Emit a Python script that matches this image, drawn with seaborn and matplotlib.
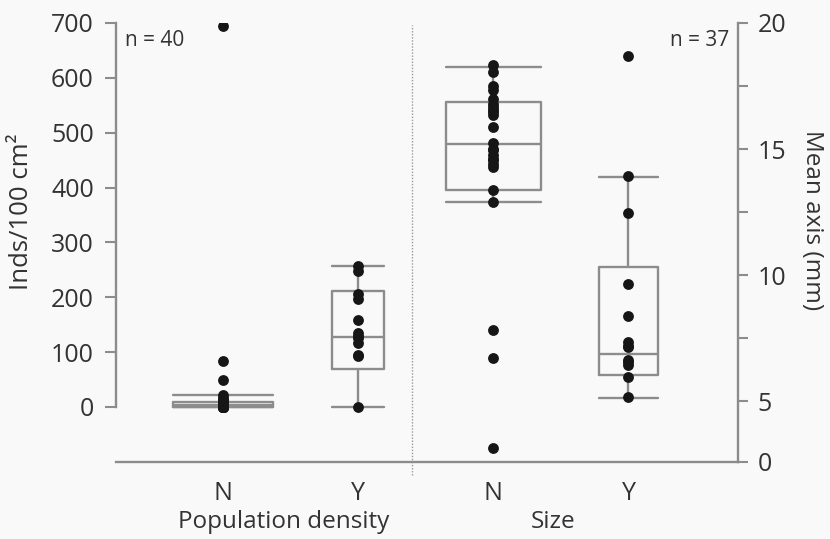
import numpy as np
import pandas as pd
import matplotlib
matplotlib.use("Agg")
import matplotlib.pyplot as plt
import matplotlib.transforms as mtransforms
import seaborn as sns

# ---------------- data ----------------
categories = ["dN", "dY", "sN", "sY"]
tick_labels = ["N", "Y", "N", "Y"]
group_labels = ["Population density", "Size"]

density_N = [695, 84, 49, 22, 16, 13, 10, 7, 5, 4, 3, 2, 1, 1,
             0, 0, 0, 0, 0, 0, 0, 0, 0, 0, 0, 0, 0, 0]
density_Y = [256, 247, 205, 197, 159, 135, 130, 126, 117, 95, 93, 0]
size_N = [18.33, 18.06, 17.5, 17.34, 17.0, 16.8, 16.67, 16.55, 16.47, 16.35,
          15.87, 15.24, 15.0, 14.96, 14.76, 14.6, 14.56, 14.4, 14.29,
          13.37, 12.9, 7.82, 6.7, 1.15]
size_Y = [18.69, 13.93, 12.46, 9.64, 8.37, 7.34, 7.2, 7.14, 6.63, 6.55,
          6.43, 5.95, 5.16]

# box statistics: (lower whisker, Q1, median, Q3, upper whisker)
box_dN = [0, 0, 4, 9, 22]
box_dY = [0, 69, 128, 212, 256]
box_sN = [12.9, 13.37, 15.2, 16.87, 18.25]
box_sY = [5.12, 6.03, 6.87, 10.32, 13.89]
box_widths = {"dN": 0.74, "dY": 0.385, "sN": 0.70, "sY": 0.44}

# ---------------- style ----------------
sns.set_theme(style="white")
plt.rcParams["font.family"] = ["Open Sans", "DejaVu Sans"]
BG = "#f9f9f9"
LINE = "#8c8c8c"
TXT = "#333333"
DOT = "#161616"

fig = plt.figure(figsize=(8.3, 5.39), dpi=100, facecolor=BG)
ax = fig.add_axes([116 / 830, 1 - 462 / 539, (738 - 116) / 830, (462 - 23) / 539])
ax.set_facecolor(BG)
ax2 = ax.twinx()

pts = pd.DataFrame({
    "cat": ["dN"] * len(density_N) + ["dY"] * len(density_Y)
           + ["sN"] * len(size_N) + ["sY"] * len(size_Y),
    "val": density_N + density_Y + size_N + size_Y,
})
boxes = pd.DataFrame({
    "cat": ["dN"] * 5 + ["dY"] * 5 + ["sN"] * 5 + ["sY"] * 5,
    "val": box_dN + box_dY + box_sN + box_sY,
})

for cat in categories:
    target = ax if cat.startswith("d") else ax2
    w = box_widths[cat]
    sns.boxplot(data=boxes[boxes.cat == cat], x="cat", y="val", order=categories,
                whis=(0, 100), width=w, fill=False, color=LINE, linewidth=1.7,
                showfliers=False, capwidths=w, ax=target)
    sns.stripplot(data=pts[pts.cat == cat], x="cat", y="val", order=categories,
                  jitter=False, color=DOT, size=7.8, linewidth=0, ax=target,
                  zorder=5)

# right axis: compressed segment between 0 and 5
B = 2.58
def fwd(v):
    v = np.asarray(v, dtype=float)
    return np.where(v < 5, B + v * (5 - B) / 5, v)
def inv(u):
    u = np.asarray(u, dtype=float)
    return np.where(u < 5, (u - B) * 5 / (5 - B), u)

ax2.set_yscale("function", functions=(fwd, inv))
ax.set_ylim(-100.5, 700)
ax2.set_ylim(0, 20)
ax.set_xlim(-0.79, 3.81)
ax2.set_xlim(-0.79, 3.81)

# spines
for a in (ax, ax2):
    for s in a.spines.values():
        s.set_visible(False)
ax.spines["left"].set_visible(True)
ax.spines["left"].set_bounds(0, 700)
ax.spines["bottom"].set_visible(True)
ax2.spines["right"].set_visible(True)
ax2.spines["right"].set_bounds(0, 20)
for s in (ax.spines["left"], ax.spines["bottom"], ax2.spines["right"]):
    s.set_color(LINE)
    s.set_linewidth(1.7)

# ticks
ax.set_yticks([0, 100, 200, 300, 400, 500, 600, 700])
ax.tick_params(axis="y", direction="out", length=8, width=1.5, color=LINE,
               labelsize=18, labelcolor=TXT, pad=8, left=True)
ax2.set_yticks([0, 5, 10, 15, 20])
ax2.set_yticks([7.5, 12.5, 17.5], minor=True)
ax2.set_yticklabels(["0", "5", "10", "15", "20"])
ax2.tick_params(axis="y", which="both", direction="out", length=7, width=1.5,
                color=LINE, labelsize=18, labelcolor=TXT, pad=7, right=True)
ax2.tick_params(axis="y", which="minor", labelright=False)

ax.set_xticks(range(len(categories)))
ax.set_xticklabels(tick_labels)
ax.tick_params(axis="x", length=0, labelsize=18, labelcolor=TXT, pad=14)
ax2.tick_params(axis="x", length=0, labelbottom=False)

ax.set_xlabel("")
ax.set_ylabel("")
ax2.set_xlabel("")
ax2.set_ylabel("")

# axis titles
fig.text(22 / 830, 1 - 212 / 539, "Inds/100 cm²", rotation=90, ha="center",
         va="center", fontsize=18.5, color=TXT)
fig.text(812 / 830, 1 - 220 / 539, "Mean axis (mm)", rotation=270, ha="center",
         va="center", fontsize=17.5, color=TXT)

# group labels
trans = mtransforms.blended_transform_factory(ax.transData, fig.transFigure)
ax.text(0.45, 1 - 522 / 539, group_labels[0], transform=trans, ha="center",
        va="center", fontsize=17.5, color=TXT)
ax.text(2.44, 1 - 522 / 539, group_labels[1], transform=trans, ha="center",
        va="center", fontsize=17.5, color=TXT)

# divider
tdiv = mtransforms.blended_transform_factory(ax.transData, ax.transAxes)
ax.plot([1.4, 1.4], [-0.03, 0.995], transform=tdiv, ls=(0, (1, 1.2)),
        color="#9a9a9a", lw=1.0, clip_on=False)

# n labels
ax.text(125 / 830, 1 - 40 / 539, "n = 40", transform=fig.transFigure,
        ha="left", va="center", fontsize=15, color=TXT)
ax.text(729 / 830, 1 - 41 / 539, "n = 37", transform=fig.transFigure,
        ha="right", va="center", fontsize=15, color=TXT)

fig.savefig("out.png", dpi=100, facecolor=BG)
